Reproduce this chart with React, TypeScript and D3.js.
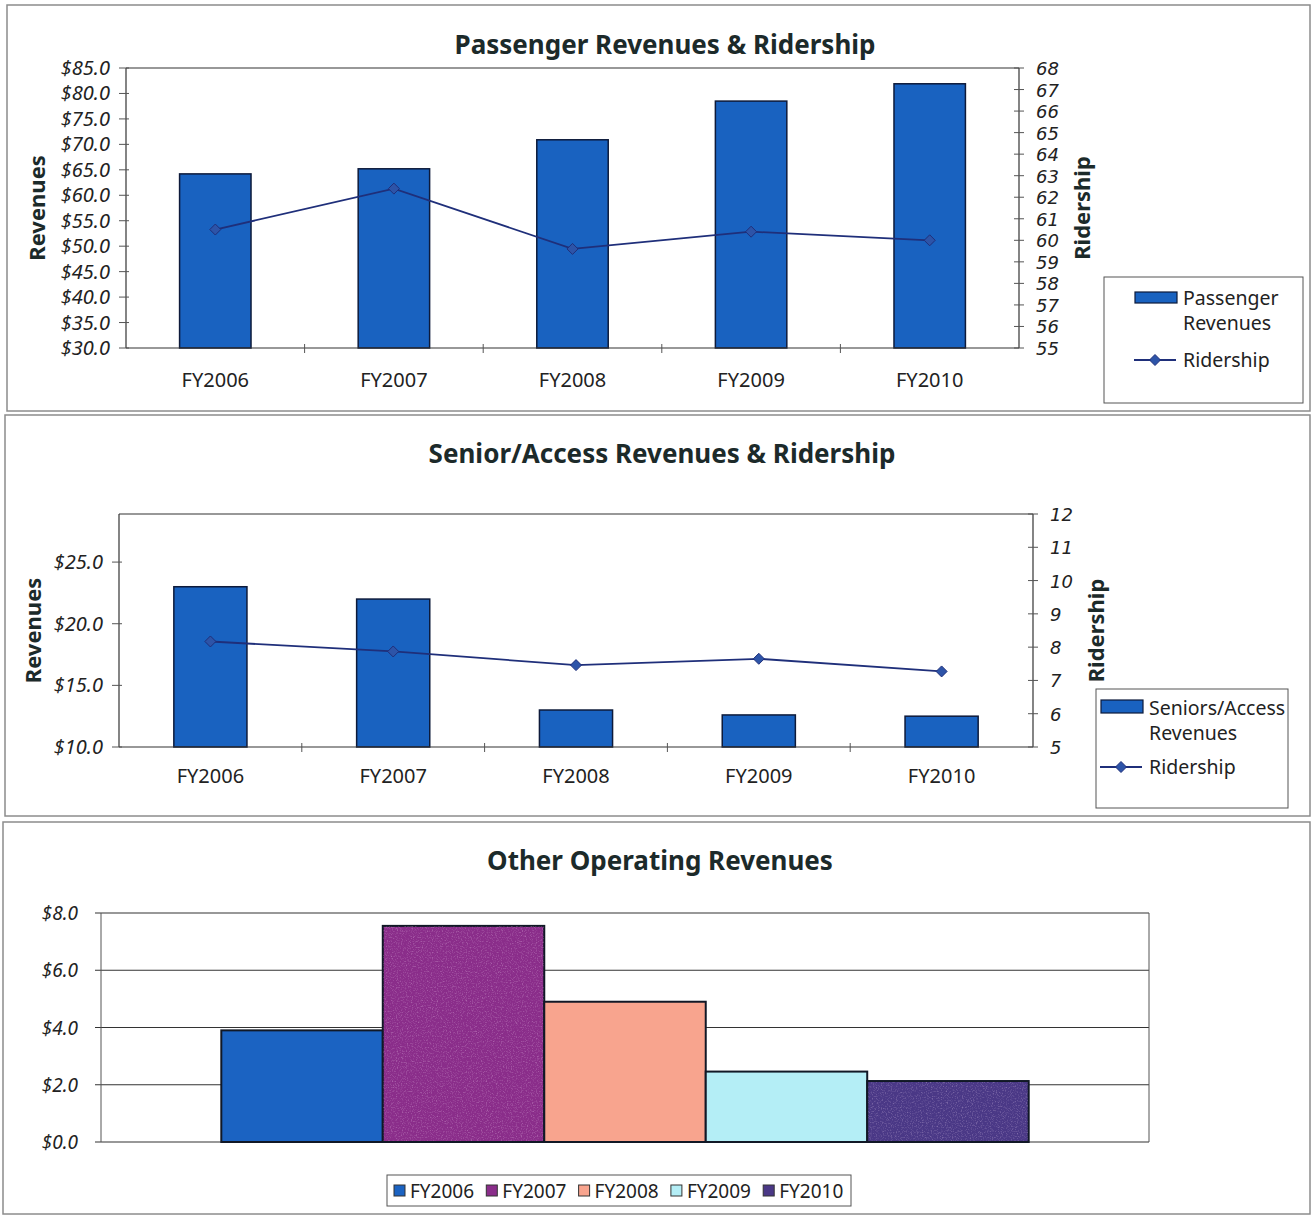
import React from "react";
import * as d3 from "d3";

// ---- data ----
const categories = ["FY2006", "FY2007", "FY2008", "FY2009", "FY2010"];

const passengerRevenue = [64.2, 65.2, 70.9, 78.5, 81.9];
const passengerRidership = [60.5, 62.4, 59.6, 60.4, 60.0];
const passengerRevenueTicks = [30, 35, 40, 45, 50, 55, 60, 65, 70, 75, 80, 85];
const passengerRidershipTicks = [55, 56, 57, 58, 59, 60, 61, 62, 63, 64, 65, 66, 67, 68];

const seniorRevenue = [23.0, 22.0, 13.0, 12.6, 12.5];
const seniorRidership = [8.17, 7.87, 7.46, 7.65, 7.27];
const seniorRevenueTicks = [10, 15, 20, 25];
const seniorRidershipTicks = [5, 6, 7, 8, 9, 10, 11, 12];

const otherRevenue = [3.9, 7.55, 4.9, 2.46, 2.13];
const otherRevenueTicks = [0, 2, 4, 6, 8];
const otherColors = ["#1b63c2", "#8a2d8a", "#f8a48e", "#b4eef6", "#4a3886"];
const otherGrain = [false, true, false, false, true];

const FONT = "Tahoma, 'Noto Sans', 'DejaVu Sans', sans-serif";
const TICK_FONT = "'DejaVu Sans', Tahoma, sans-serif";
const BAR_BLUE = "#1962c0";
const BAR_EDGE = "#0d1a3a";
const LINE_BLUE = "#1f2f7a";
const MARK_BLUE = "#2d54a8";
const TITLE_INK = "#1c2a2a";

const money = (v: number) => `$${v.toFixed(1)}`;

type LegendSpec = {
  x: number;
  y: number;
  w: number;
  h: number;
  lines: string[];
  swatchX: number;
  swatchY: number;
  swatchH: number;
  textX: number;
  rows: [number, number];
  lineY: number;
};

type ComboProps = {
  title: string;
  titleX: number;
  titleY: number;
  frame: [number, number, number, number];
  plot: { left: number; right: number; top: number; bottom: number };
  revDomain: [number, number];
  revTicks: number[];
  ridDomain: [number, number];
  ridTicks: number[];
  revenue: number[];
  ridership: number[];
  revTitleX: number;
  ridTitleX: number;
  catLabelDy: number;
  legend: LegendSpec;
};

function Diamond({ x, y, r }: { x: number; y: number; r: number }) {
  return (
    <path
      d={`M${x},${y - r}L${x + r},${y}L${x},${y + r}L${x - r},${y}Z`}
      fill={MARK_BLUE}
      stroke={LINE_BLUE}
      strokeWidth={1}
    />
  );
}

function ComboChart(p: ComboProps) {
  const { left, right, top, bottom } = p.plot;
  const x = d3
    .scaleBand<string>()
    .domain(categories)
    .range([left, right])
    .paddingInner(0.6)
    .paddingOuter(0.3);
  const step = (right - left) / categories.length;
  const yRev = d3.scaleLinear().domain(p.revDomain).range([bottom, top]);
  const yRid = d3.scaleLinear().domain(p.ridDomain).range([bottom, top]);
  const cx = (c: string) => (x(c) as number) + x.bandwidth() / 2;
  const line = d3
    .line<number>()
    .x((_, i) => cx(categories[i]))
    .y((d) => yRid(d));
  const [fx, fy, fw, fh] = p.frame;
  const midY = (top + bottom) / 2;
  const lg = p.legend;

  return (
    <g>
      <rect x={fx} y={fy} width={fw} height={fh} fill="#fff" stroke="#8c8c8c" strokeWidth={1.5} />
      <text
        x={p.titleX}
        y={p.titleY}
        textAnchor="middle"
        fontFamily={FONT}
        fontWeight="bold"
        fontSize={26}
        fill={TITLE_INK}
      >
        {p.title}
      </text>

      {/* plot border: top and left/right axes */}
      <line x1={left} x2={right} y1={top} y2={top} stroke="#333" strokeWidth={1.2} />
      <line x1={left} x2={left} y1={top} y2={bottom} stroke="#333" strokeWidth={1.2} />
      <line x1={right} x2={right} y1={top} y2={bottom} stroke="#333" strokeWidth={1.2} />

      {/* bars */}
      {p.revenue.map((v, i) => (
        <rect
          key={categories[i]}
          x={x(categories[i])}
          y={yRev(v)}
          width={x.bandwidth()}
          height={bottom - yRev(v)}
          fill={BAR_BLUE}
          stroke={BAR_EDGE}
          strokeWidth={1.5}
        />
      ))}

      {/* category axis */}
      <line x1={left} x2={right} y1={bottom} y2={bottom} stroke="#333" strokeWidth={1.2} />
      {categories.slice(1).map((_, i) => (
        <line
          key={i}
          x1={left + step * (i + 1)}
          x2={left + step * (i + 1)}
          y1={bottom - 4}
          y2={bottom + 5}
          stroke="#555"
          strokeWidth={1}
        />
      ))}
      {categories.map((c) => (
        <text
          key={c}
          x={cx(c)}
          y={bottom + p.catLabelDy}
          textAnchor="middle"
          fontFamily={FONT}
          fontSize={20}
          fill="#222"
        >
          {c}
        </text>
      ))}

      {/* revenue axis */}
      {p.revTicks.map((t) => (
        <g key={t}>
          <line x1={left - 7} x2={left + 3} y1={yRev(t)} y2={yRev(t)} stroke="#555" strokeWidth={1} />
          <text
            x={left - 16}
            y={yRev(t) + 7}
            textAnchor="end"
            fontFamily={FONT}
            fontStyle="italic"
            fontSize={20}
            fill="#222"
          >
            {money(t)}
          </text>
        </g>
      ))}
      <text
        transform={`translate(${p.revTitleX},${midY}) rotate(-90)`}
        textAnchor="middle"
        fontFamily={FONT}
        fontWeight="bold"
        fontSize={22}
        fill={TITLE_INK}
      >
        Revenues
      </text>

      {/* ridership axis */}
      {p.ridTicks.map((t) => (
        <g key={t}>
          <line x1={right - 5} x2={right + 5} y1={yRid(t)} y2={yRid(t)} stroke="#555" strokeWidth={1} />
          <text
            x={right + 17}
            y={yRid(t) + 7}
            textAnchor="start"
            fontFamily={TICK_FONT}
            fontStyle="italic"
            fontSize={18}
            fill="#222"
          >
            {t}
          </text>
        </g>
      ))}
      <text
        transform={`translate(${p.ridTitleX},${midY}) rotate(-90)`}
        textAnchor="middle"
        fontFamily={FONT}
        fontWeight="bold"
        fontSize={22}
        fill={TITLE_INK}
      >
        Ridership
      </text>

      {/* ridership line */}
      <path d={line(p.ridership) || ""} fill="none" stroke={LINE_BLUE} strokeWidth={1.8} />
      {p.ridership.map((v, i) => (
        <Diamond key={i} x={cx(categories[i])} y={yRid(v)} r={5.5} />
      ))}

      {/* legend */}
      <rect x={lg.x} y={lg.y} width={lg.w} height={lg.h} fill="#fff" stroke="#555" strokeWidth={1} />
      <rect
        x={lg.x + lg.swatchX}
        y={lg.y + lg.swatchY}
        width={42}
        height={lg.swatchH}
        fill={BAR_BLUE}
        stroke={BAR_EDGE}
        strokeWidth={1.2}
      />
      {lg.lines.map((s, i) => (
        <text key={s} x={lg.x + lg.textX} y={lg.y + lg.rows[i]} fontFamily={FONT} fontSize={19.5} fill="#222">
          {s}
        </text>
      ))}
      <line
        x1={lg.x + lg.swatchX - 1}
        x2={lg.x + lg.swatchX + 41}
        y1={lg.y + lg.lineY}
        y2={lg.y + lg.lineY}
        stroke={LINE_BLUE}
        strokeWidth={1.8}
      />
      <Diamond x={lg.x + lg.swatchX + 20} y={lg.y + lg.lineY} r={5.5} />
      <text x={lg.x + lg.textX} y={lg.y + lg.lineY + 7} fontFamily={FONT} fontSize={19.5} fill="#222">
        Ridership
      </text>
    </g>
  );
}

function OtherRevenues() {
  const left = 101;
  const right = 1149;
  const top = 913;
  const bottom = 1142;
  const group = d3.scaleBand<string>().domain(["Other"]).range([left, right]).paddingOuter(0.149);
  const g0 = group("Other") as number;
  const x = d3.scaleBand<string>().domain(categories).range([g0, g0 + group.bandwidth()]);
  const y = d3.scaleLinear().domain([0, 8]).range([bottom, top]);

  return (
    <g>
      <rect x={3} y={822} width={1307} height={392} fill="#fff" stroke="#8c8c8c" strokeWidth={1.5} />
      <text
        x={660}
        y={870}
        textAnchor="middle"
        fontFamily={FONT}
        fontWeight="bold"
        fontSize={26}
        fill={TITLE_INK}
      >
        Other Operating Revenues
      </text>

      {/* gridlines */}
      {otherRevenueTicks.map((t) => (
        <g key={t}>
          <line x1={left - 6} x2={right} y1={y(t)} y2={y(t)} stroke="#333" strokeWidth={1.2} />
          <text
            x={left - 23}
            y={y(t) + 7}
            textAnchor="end"
            fontFamily={FONT}
            fontStyle="italic"
            fontSize={19}
            fill="#222"
          >
            {money(t)}
          </text>
        </g>
      ))}
      <line x1={left} x2={left} y1={top} y2={bottom} stroke="#555" strokeWidth={1} />
      <line x1={right} x2={right} y1={top} y2={bottom} stroke="#555" strokeWidth={1} />

      {/* bars */}
      {otherRevenue.map((v, i) => (
        <g key={categories[i]}>
          <rect
            x={x(categories[i])}
            y={y(v)}
            width={x.bandwidth()}
            height={bottom - y(v)}
            fill={otherColors[i]}
            stroke="#111826"
            strokeWidth={2}
          />
          {otherGrain[i] && (
            <rect
              x={(x(categories[i]) as number) + 1}
              y={y(v) + 1}
              width={x.bandwidth() - 2}
              height={bottom - y(v) - 2}
              fill="#fff"
              filter="url(#grain)"
              opacity={0.35}
            />
          )}
        </g>
      ))}

      {/* legend */}
      <rect x={387} y={1175} width={464} height={31} fill="#fff" stroke="#555" strokeWidth={1} />
      {categories.map((c, i) => {
        const lx = 394 + i * 92.3;
        return (
          <g key={c}>
            <rect x={lx} y={1185} width={11} height={11} fill={otherColors[i]} stroke="#333" strokeWidth={1} />
            <text x={lx + 16} y={1198} fontFamily={FONT} fontSize={19} fill="#222">
              {c}
            </text>
          </g>
        );
      })}
    </g>
  );
}

export default function App() {
  return (
    <svg
      width={1312}
      height={1216}
      viewBox="0 0 1312 1216"
      style={{ position: "absolute", left: 0, top: 0, background: "#fff" }}
    >
      <defs>
        <filter id="grain" x="0" y="0" width="100%" height="100%">
          <feTurbulence type="fractalNoise" baseFrequency="0.8" numOctaves={2} seed={3} result="noise" />
          <feColorMatrix
            in="noise"
            type="matrix"
            values="0 0 0 0 1  0 0 0 0 0.8  0 0 0 0 1  0 0 0 2.2 -1.1"
          />
        </filter>
      </defs>
      <rect x={0} y={0} width={1312} height={1216} fill="#fff" />
      <ComboChart
        title="Passenger Revenues & Ridership"
        titleX={665}
        titleY={54}
        frame={[7, 5, 1303, 406]}
        plot={{ left: 126, right: 1019, top: 68, bottom: 348 }}
        revDomain={[30, 85]}
        revTicks={passengerRevenueTicks}
        ridDomain={[55, 68]}
        ridTicks={passengerRidershipTicks}
        revenue={passengerRevenue}
        ridership={passengerRidership}
        revTitleX={45}
        ridTitleX={1090}
        catLabelDy={39}
        legend={{
          x: 1104,
          y: 277,
          w: 199,
          h: 126,
          lines: ["Passenger", "Revenues"],
          swatchX: 31,
          swatchY: 15,
          swatchH: 11,
          textX: 79,
          rows: [28, 53],
          lineY: 83,
        }}
      />
      <ComboChart
        title="Senior/Access Revenues & Ridership"
        titleX={662}
        titleY={463}
        frame={[5, 415, 1305, 401]}
        plot={{ left: 119, right: 1033, top: 514, bottom: 747 }}
        revDomain={[10, 28.9]}
        revTicks={seniorRevenueTicks}
        ridDomain={[5, 12]}
        ridTicks={seniorRidershipTicks}
        revenue={seniorRevenue}
        ridership={seniorRidership}
        revTitleX={41}
        ridTitleX={1104}
        catLabelDy={36}
        legend={{
          x: 1096,
          y: 689,
          w: 192,
          h: 119,
          lines: ["Seniors/Access", "Revenues"],
          swatchX: 5,
          swatchY: 11,
          swatchH: 13,
          textX: 53,
          rows: [26, 51],
          lineY: 78,
        }}
      />
      <OtherRevenues />
    </svg>
  );
}
